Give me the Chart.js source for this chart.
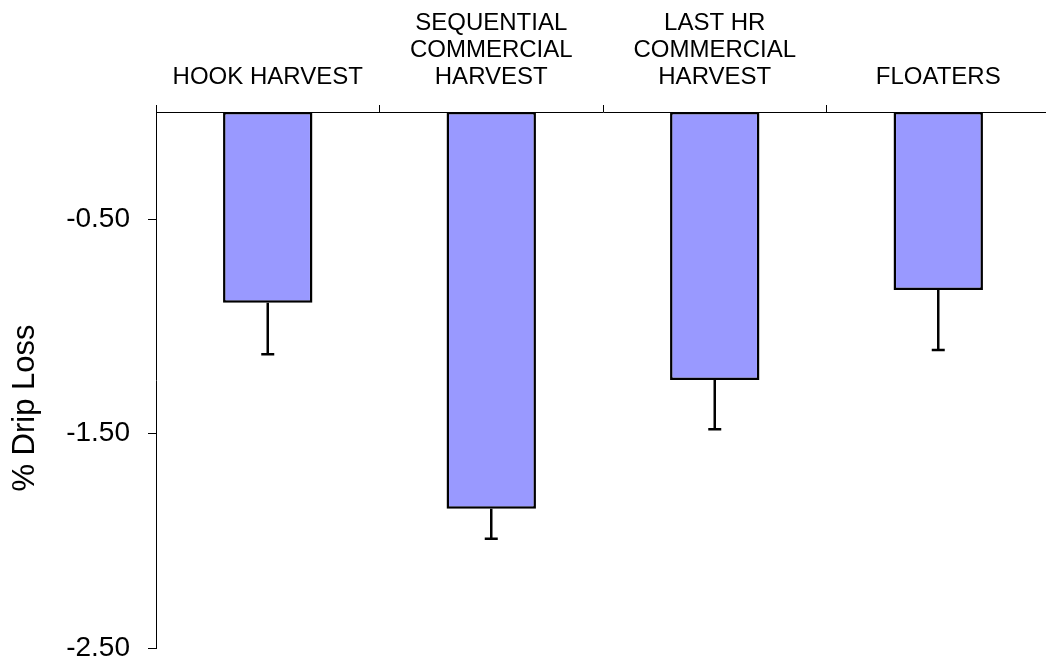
<!DOCTYPE html>
<html>
<head>
<meta charset="utf-8">
<script src="https://cdn.jsdelivr.net/npm/chart.js@4/dist/chart.umd.min.js"></script>
<style>
    html, body { margin: 0; padding: 0; background: #fff; overflow: hidden; }
    #wrap { width: 1052px; height: 664px; }
</style>
</head>
<body>
<div id="wrap"><canvas id="chart"></canvas></div>
<script>
const categories = [
    'HOOK HARVEST',
    ['SEQUENTIAL', 'COMMERCIAL', 'HARVEST'],
    ['LAST HR', 'COMMERCIAL', 'HARVEST'],
    'FLOATERS',
];
const dripLoss = [-0.89, -1.85, -1.25, -0.83];
const dripLossErr = [0.24, 0.14, 0.23, 0.28];
const yTicks = [-0.5, -1.5, -2.5];

const FONT = 'Arial, "Liberation Sans", sans-serif';

// error bars hang below each bar
const errorBars = {
    id: 'errorBars',
    afterDatasetsDraw(chart) {
        const ctx = chart.ctx;
        const y = chart.scales.y;
        const meta = chart.getDatasetMeta(0);
        ctx.save();
        ctx.strokeStyle = '#000';
        ctx.lineWidth = 2.5;
        meta.data.forEach((bar, i) => {
            const y0 = y.getPixelForValue(dripLoss[i]);
            const y1 = y.getPixelForValue(dripLoss[i] - dripLossErr[i]);
            ctx.beginPath();
            ctx.moveTo(bar.x, y0);
            ctx.lineTo(bar.x, y1);
            ctx.moveTo(bar.x - 6.5, y1);
            ctx.lineTo(bar.x + 6.5, y1);
            ctx.stroke();
        });
        ctx.restore();
    }
};

// y title sits a bit below the middle of the plot in the original
const yTitle = {
    id: 'yTitle',
    afterDraw(chart) {
        const ctx = chart.ctx;
        const area = chart.chartArea;
        ctx.save();
        ctx.translate(25, (area.top + area.bottom) / 2 + 28);
        ctx.rotate(-Math.PI / 2);
        ctx.font = `31px ${FONT}`;
        ctx.fillStyle = '#000';
        ctx.textAlign = 'center';
        ctx.textBaseline = 'middle';
        ctx.fillText('% Drip Loss', 0, 0);
        ctx.restore();
    }
};

new Chart(document.getElementById('chart'), {
    type: 'bar',
    data: {
        labels: categories,
        datasets: [{
            data: dripLoss,
            backgroundColor: '#9999ff',
            borderColor: '#000',
            borderWidth: 2.5,
            borderSkipped: false,
            categoryPercentage: 1,
            barPercentage: 0.4,
        }],
    },
    options: {
        responsive: true,
        maintainAspectRatio: false,
        animation: false,
        layout: {
            padding: { left: 0, top: 0, right: 2, bottom: 0 },
        },
        plugins: {
            legend: { display: false },
            tooltip: { enabled: false },
        },
        scales: {
            x: {
                position: 'top',
                grid: {
                    drawOnChartArea: false,
                    offset: true,
                    tickLength: 7,
                    color: '#000',
                },
                border: { color: '#000', width: 1 },
                ticks: {
                    color: '#000',
                    padding: 14,
                    maxRotation: 0,
                    autoSkip: false,
                    font: { family: FONT, size: 24, lineHeight: 1.125 },
                },
                afterFit(scale) {
                    scale.height = 112;
                },
            },
            y: {
                min: -2.5,
                max: 0,
                afterBuildTicks(scale) {
                    scale.ticks = yTicks.map((v) => ({ value: v }));
                },
                grid: {
                    drawOnChartArea: false,
                    tickLength: 8,
                    color: '#000',
                },
                border: { color: '#000', width: 1 },
                ticks: {
                    color: '#000',
                    padding: 18,
                    font: { family: FONT, size: 28 },
                    callback: (v) => Number(v).toFixed(2),
                },
                afterFit(scale) {
                    scale.width = 156;
                    scale.paddingTop = 0;
                    scale.paddingBottom = 16;
                },
            },
        },
    },
    plugins: [errorBars, yTitle],
});
</script>
</body>
</html>
